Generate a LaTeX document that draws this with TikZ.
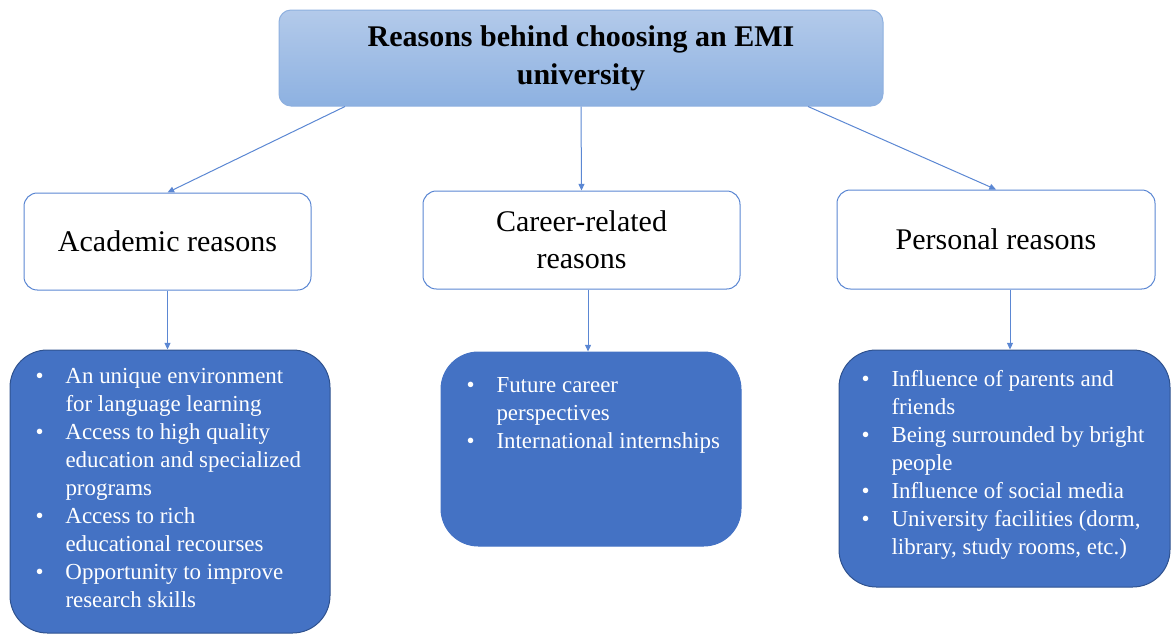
\documentclass[tikz,border=0pt]{standalone}
\usepackage{fontspec}
\setmainfont{Liberation Serif}
\usetikzlibrary{arrows.meta}
\definecolor{emiblue}{HTML}{4472C4}
\definecolor{emidark}{HTML}{2F528F}
\definecolor{emitop}{HTML}{B3CAEA}
\definecolor{emibot}{HTML}{8DB1E1}
\definecolor{emiedge}{HTML}{8EB0DF}
\definecolor{emiline}{HTML}{5B87D3}
\newcommand{\bl}{\makebox[22.5pt][l]{\textbullet}}
\newcommand{\ind}{\hspace*{22.5pt}}
\begin{document}
\begin{tikzpicture}[x=0.75pt,y=-0.75pt,line width=0.75pt,
  titlebox/.style={draw=emiedge,top color=emitop,bottom color=emibot,rounded corners=9pt,
    minimum width=453pt,minimum height=72pt,align=center,
    font=\fontsize{22.5}{28.5}\selectfont\bfseries},
  reasonbox/.style={draw=emiline,fill=white,rounded corners=10pt,align=center,
    font=\fontsize{22.5}{28}\selectfont},
  listbox/.style={fill=emiblue,draw=emidark,rounded corners=28pt},
  listtxt/.style={anchor=north west,inner sep=0pt,align=left,text=white,
    font=\fontsize{17.2}{21}\selectfont},
  arr/.style={draw=emiline,-{Triangle[length=5pt,width=4.5pt]}}]
  \useasboundingbox (0,0) rectangle (1171,636);
  %%%%%%%%%%%%%The title%%%%%%%%%%%%%%%%%%%%%%
  \node[titlebox] (top) at (581,58) {Reasons behind choosing an EMI\\university};

  %%%%%%%%%%%%%The three groups%%%%%%%%%%%%%%%%%%%%%%
  \node[reasonbox,minimum width=215.25pt,minimum height=72.75pt] (acad) at (167.5,241.5) {Academic reasons};
  \node[reasonbox,minimum width=237.75pt,minimum height=73.5pt] (career) at (581.5,240) {Career-related\\reasons};
  \node[reasonbox,minimum width=238.5pt,minimum height=74.25pt] (pers) at (996,239.5) {Personal reasons};

  %%%%%%%%%%%%%The lists%%%%%%%%%%%%%%%%%%%%%%
  \node[listbox,minimum width=240pt,minimum height=212.25pt] (leftlist) at (170,491.5) {};
  \node[listbox,draw=emiblue,minimum width=225pt,minimum height=145.5pt] (midlist) at (591,449) {};
  \node[listbox,minimum width=248.25pt,minimum height=177.75pt] (rightlist) at (1004.5,468.5) {};

  \node[listtxt] (lefttxt) at (35,368) {\bl An unique environment\\
    \ind for language learning\\
    \bl Access to high quality\\
    \ind education and specialized\\
    \ind programs\\
    \bl Access to rich\\
    \ind educational recourses\\
    \bl Opportunity to improve\\
    \ind research skills};
  \node[listtxt] (midtxt) at (466,377) {\bl Future career\\
    \ind perspectives\\
    \bl International internships};
  \node[listtxt] (righttxt) at (861,370) {\bl Influence of parents and\\
    \ind friends\\
    \bl Being surrounded by bright\\
    \ind people\\
    \bl Influence of social media\\
    \bl University facilities (dorm,\\
    \ind library, study rooms, etc.)};

  %%%%%%%%%%%%%The arrows%%%%%%%%%%%%%%%%%%%%%%
  \draw[arr] ([xshift=-177pt]top.south) -- (acad.north);
  \draw[arr] (top.south) -- (career.north);
  \draw[arr] ([xshift=170.25pt]top.south) -- (pers.north);
  \draw[arr] (acad.south) -- (acad.south |- leftlist.north);
  \draw[arr] ([xshift=4.9pt]career.south) -- ([xshift=4.9pt]career.south |- midlist.north);
  \draw[arr] ([xshift=10.5pt]pers.south) -- ([xshift=10.5pt]pers.south |- rightlist.north);
\end{tikzpicture}
\end{document}
